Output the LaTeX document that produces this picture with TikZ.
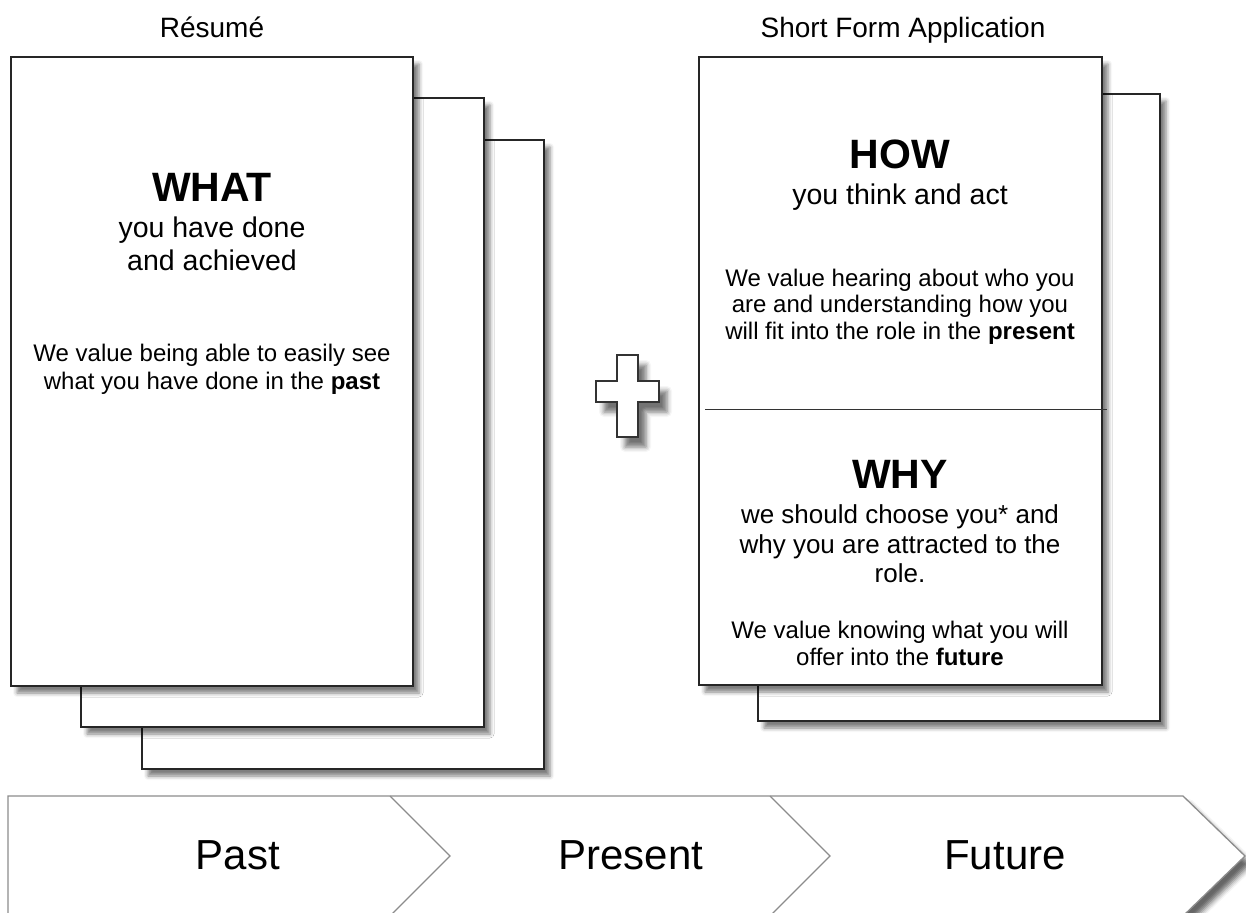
\documentclass[tikz,border=0pt]{standalone}
\usepackage{fontspec}
\setmainfont{Liberation Sans}
\usetikzlibrary{shadows.blur}

\begin{document}
\begin{tikzpicture}[x=1pt, y=-1pt, inner sep=0pt, outer sep=0pt,
  sheet/.style={draw=black!85, fill=white, line width=1.4pt,
    blur shadow={shadow xshift=6pt, shadow yshift=-7pt,
      shadow blur radius=4pt, shadow opacity=50}},
  plus/.style={draw=black!80, fill=white, line width=1.2pt,
    blur shadow={shadow xshift=8pt, shadow yshift=-10pt,
      shadow blur radius=5pt, shadow opacity=55}},
  band/.style={draw=black!45, fill=white, line width=1.3pt,
    blur shadow={shadow xshift=6pt, shadow yshift=-8pt,
      shadow blur radius=5pt, shadow opacity=60}},
  fold/.style={draw=black!45, line width=1.3pt},
  headtext/.style={anchor=base, font=\fontsize{28}{31}\selectfont},
  bigword/.style={anchor=north, font=\bfseries\fontsize{41}{45}\selectfont},
  subtext/.style={anchor=north, align=center, font=\fontsize{28.5}{33}\selectfont},
  bodytext/.style={anchor=north, align=center, font=\fontsize{24}{27}\selectfont},
  phasetext/.style={font=\fontsize{42}{46}\selectfont}]
\useasboundingbox (0,0) rectangle (1246,912);
\clip (0,0) rectangle (1246,912);
\path (212,38) node[headtext] (textResume) {Résumé};
\path (903,38) node[headtext] (textShortForm) {Short Form Application};
\path[sheet] (142,140) rectangle (544,769);
\path[sheet] (81,98) rectangle (484,727);
\path[sheet] (11,57) rectangle (413,686);
\path (212,173) node[bigword] (textWhat) {WHAT};
\path (212,217) node[subtext] (textDone)
  {you have done\\and achieved};
\path (212,344) node[bodytext, font=\fontsize{24}{28}\selectfont] (textPast)
  {We value being able to easily see\\what you have done in the \textbf{past}};
\path[plus] (617,355) -- (638,355) -- (638,381) -- (659,381) -- (659,402)
  -- (638,402) -- (638,437) -- (617,437) -- (617,402) -- (596,402)
  -- (596,381) -- (617,381) -- cycle;
\path[sheet] (758,94) rectangle (1160,721);
\path[sheet] (699,57) rectangle (1102,685);
\path[draw=black!80, line width=1pt] (705,409) -- (1107,409);
\path (900,140) node[bigword] (textHow) {HOW};
\path (900,184) node[subtext] (textThink) {you think and act};
\path (900,269) node[bodytext, font=\fontsize{24}{26.5}\selectfont] (textPresent)
  {We value hearing about who you\\are and understanding how you\\will fit into
  the role in the \textbf{present}};
\path (900,505) node[subtext, font=\fontsize{26}{29.5}\selectfont] (textChoose)
  {we should choose you* and\\why you are attracted to the\\role.};
\path (900,460) node[bigword] (textWhy) {WHY};
\path (900,621) node[bodytext] (textFuture)
  {We value knowing what you will\\offer into the \textbf{future}};
\path[band] (8,796) -- (1183,796) -- (1245,856) -- (1183,916) -- (8,916) -- cycle;
\path[fold] (390,796) -- (450,856) -- (390,916);
\path[fold] (770,796) -- (830,856) -- (770,916);
\path (238,855) node[phasetext] (textPhasePast) {Past};
\path (631,855) node[phasetext] (textPhasePresent) {Present};
\path (1005,855) node[phasetext] (textPhaseFuture) {Future};
\end{tikzpicture}
\end{document}
